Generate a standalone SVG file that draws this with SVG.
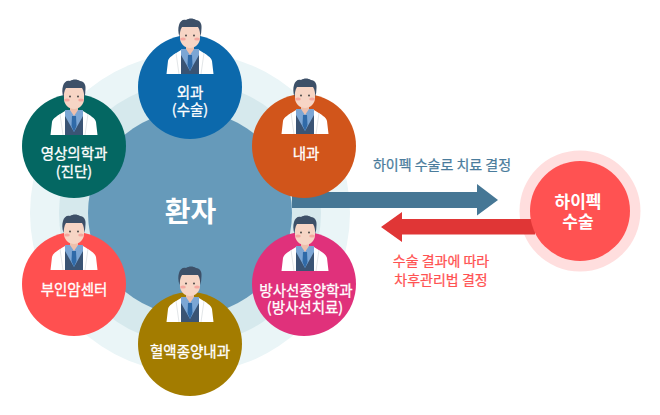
<svg xmlns="http://www.w3.org/2000/svg" width="660" height="415" viewBox="0 0 660 415">
<style>
.t{font-family:"Noto Sans CJK KR","Noto Sans",sans-serif;font-weight:400;text-anchor:middle;fill:#fff;stroke:#fff;stroke-width:.3px;font-size:14.5px}
.h{font-family:"Noto Sans CJK KR","Noto Sans",sans-serif;font-weight:700;text-anchor:middle;fill:#fff}
.b{font-size:14px;fill:#4a7c9c;stroke:#4a7c9c;stroke-width:.25px;text-anchor:middle;font-family:"Noto Sans CJK KR",sans-serif;font-weight:400}
.r{font-size:14px;fill:#ff5252;stroke:#ff5252;stroke-width:.25px;text-anchor:middle;font-family:"Noto Sans CJK KR",sans-serif;font-weight:400}
</style>
<defs>
<g id="doc">
<path d="M-23.500 0L-22-13C-21-17-17-19-9-24L9-24C17-19 21-17 22-13L23.500 0Z" fill="#fff"/>
<path d="M-14-21L-11 0M14-21L11 0" stroke="#e3e6e8" stroke-width="1" fill="none"/>
<path d="M-9-24L9-24L9 0L-9 0Z" fill="#3a5474"/>
<path d="M-9-25L9-25L9-19L0-3L-9-19Z" fill="#7ca6d4"/>
<path d="M-2-19L2-19L2.500-9L0-3L-2.500-9Z" fill="#2f6aa8"/>
<path d="M-4-30L4-30L4-25L0-19L-4-25Z" fill="#eec0ac"/>
<path d="M-10-48L10-48L10-36C10-30 5-26 0-26C-5-26-10-30-10-36Z" fill="#f7d5c5"/>
<path d="M-10.500-37C-12-42-12-46-11-49C-10-53-7-55-4-54C-1-56 3-56 6-54C10-54 12-50 11.500-46C11.500-43 11-40 10.500-37C10-41 10-44 8-47L-8-47C-10-44-10-41-10.500-37Z" fill="#3d5068"/>
<ellipse cx="-7" cy="-35" rx="2.800" ry="1.600" fill="#f5a8a0"/>
<ellipse cx="7" cy="-35" rx="2.800" ry="1.600" fill="#f5a8a0"/>
<circle cx="-4" cy="-38.500" r=".9" fill="#3d3d3d"/>
<circle cx="4" cy="-38.500" r=".9" fill="#3d3d3d"/>
</g>
</defs>
<rect width="660" height="415" fill="#fff"/>
<g id="rings">
<circle cx="190" cy="213" r="160" fill="#eaf5f7"/>
<circle cx="190" cy="213" r="131" fill="#d6e9ed"/>
</g>
<g id="patient">
<circle cx="190" cy="213" r="102" fill="#669aba"/>
<text x="190.500" y="222" class="h" style="font-size:28px">환자</text>
</g>
<circle id="hipec-halo" cx="580" cy="211" r="60.500" fill="#ffdede"/>
<g id="connectors">
<path d="M292 192L477 192L477 184L498 200L477 215.500L477 208L292 208Z" fill="#467795"/>
<path d="M535 219L402 219L402 212L381 227L402 242L402 234.500L535 234.500Z" fill="#e03636"/>
</g>
<g id="hipec">
<circle cx="580" cy="211" r="50" fill="#ff5252"/>
<text x="578" y="208" class="h" style="font-size:17px">하이펙</text>
<text x="578" y="228" class="h" style="font-size:17px">수술</text>
</g>
<text x="442" y="170" class="b">하이펙 수술로 치료 결정</text>
<text x="441" y="266" class="r">수술 결과에 따라</text>
<text x="441" y="285" class="r">차후관리법 결정</text>
<g id="surgery">
<circle cx="190" cy="87" r="52" fill="#0c69ac"/>
<use href="#doc" x="190" y="74"/>
<text x="190" y="98" class="t">외과</text><text x="190" y="115" class="t">(수술)</text>
</g>
<g id="internal">
<circle cx="304" cy="146" r="52" fill="#d1551b"/>
<use href="#doc" x="305" y="134"/>
<text x="306" y="159" class="t">내과</text>
</g>
<g id="radiation">
<circle cx="304" cy="284" r="52" fill="#e0317b"/>
<use href="#doc" x="305" y="271"/>
<text x="306" y="296" class="t">방사선종양학과</text><text x="305" y="313" class="t">(방사선치료)</text>
</g>
<g id="hematology">
<circle cx="190" cy="344" r="52" fill="#a37c00"/>
<use href="#doc" x="190" y="322"/>
<text x="190" y="357" class="t">혈액종양내과</text>
</g>
<g id="cancer">
<circle cx="74" cy="284" r="52" fill="#ff5050"/>
<use href="#doc" x="74" y="270"/>
<text x="74" y="295" class="t">부인암센터</text>
</g>
<g id="imaging">
<circle cx="74" cy="146" r="52" fill="#046762"/>
<use href="#doc" x="74" y="135"/>
<text x="74" y="159" class="t">영상의학과</text><text x="74" y="177" class="t">(진단)</text>
</g>
</svg>
